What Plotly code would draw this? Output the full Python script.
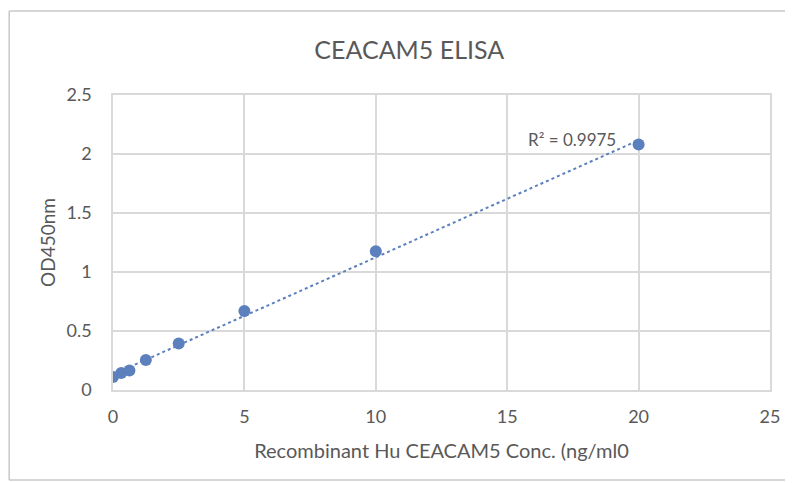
import numpy as np
import plotly.graph_objects as go

conc = [0, 0.3125, 0.625, 1.25, 2.5, 5, 10, 20]
od450 = [0.11, 0.145, 0.165, 0.255, 0.395, 0.67, 1.175, 2.08]
x_ticks = [0, 5, 10, 15, 20, 25]
y_ticks = [0, 0.5, 1, 1.5, 2, 2.5]
y_tick_labels = ["0", "0.5", "1", "1.5", "2", "2.5"]
title_text = "CEACAM5 ELISA"
x_title = "Recombinant Hu CEACAM5 Conc. (ng/ml0"
y_title = "OD450nm"
r2_label = "R² = 0.9975"

FONT = "Lato, Roboto, sans-serif"
GRAY = "#595959"
BLUE = "#5b80bd"

slope, intercept = np.polyfit(conc, od450, 1)
tx = np.array([min(conc), max(conc)])
ty = slope * tx + intercept

fig = go.Figure()
fig.add_trace(go.Scatter(x=tx, y=ty, mode="lines",
                         line=dict(color=BLUE, width=2, dash="dot"),
                         hoverinfo="skip", showlegend=False))
fig.add_trace(go.Scatter(x=conc, y=od450, mode="markers",
                         marker=dict(color=BLUE, size=12),
                         showlegend=False))

fig.add_annotation(x=conc[-1], y=od450[-1], text=r2_label, showarrow=False,
                   xanchor="right", yanchor="bottom", xshift=-21, yshift=-7,
                   font=dict(family=FONT, size=17, color=GRAY))

border = dict(color="#c8c8c8", width=1.5)
bx0, bx1, by0, by1 = -0.158, 1.5, -0.305, 1.285
for (xa, ya, xb, yb) in [(bx0, by1, bx1, by1), (bx0, by0, bx1, by0),
                         (bx0, by0, bx0, by1)]:
    fig.add_shape(type="line", xref="paper", yref="paper",
                  x0=xa, y0=ya, x1=xb, y1=yb, line=border, layer="below")

fig.update_layout(
    width=793, height=483,
    margin=dict(l=105, r=31, t=87, b=101),
    paper_bgcolor="white", plot_bgcolor="white",
    title=dict(text=title_text, x=0.506, xref="container", xanchor="center",
               y=0.913, yref="container", yanchor="middle",
               font=dict(family=FONT, size=25, color=GRAY)),
    xaxis=dict(range=[0, 25], tickvals=x_ticks, showgrid=True,
               gridcolor="#d9d9d9", gridwidth=1.5, zeroline=False,
               showline=True, linecolor="#d9d9d9", linewidth=1.5, mirror=True,
               ticks="", ticklabelstandoff=10,
               tickfont=dict(family=FONT, size=18, color=GRAY),
               title=dict(text=x_title, standoff=18,
                          font=dict(family=FONT, size=20, color=GRAY))),
    yaxis=dict(range=[0, 2.5], tickvals=y_ticks, ticktext=y_tick_labels,
               showgrid=True, gridcolor="#d9d9d9", gridwidth=1.5,
               zeroline=False, showline=True, linecolor="#d9d9d9",
               linewidth=1.5, mirror=True, ticks="", ticklabelstandoff=16,
               tickfont=dict(family=FONT, size=18, color=GRAY),
               title=dict(text=y_title, standoff=6,
                          font=dict(family=FONT, size=19, color=GRAY))),
)

fig.write_html("out.html")
